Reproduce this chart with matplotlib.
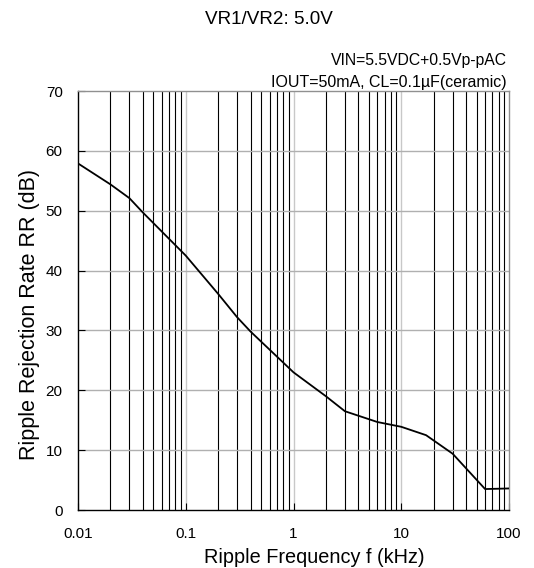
import matplotlib.pyplot as plt
import numpy as np

plt.rcParams['font.family'] = ['Liberation Sans', 'DejaVu Sans']

# data
freq_khz = [0.01, 0.02, 0.03, 0.04, 0.1, 0.2, 0.3, 0.4, 1.0, 2.0, 3.0, 6.0, 10.0, 17.0, 30.0, 60.0, 100.0]
rr_db = [57.9, 54.4, 52.1, 49.7, 42.5, 36.1, 32.2, 29.8, 23.0, 19.0, 16.5, 14.7, 13.9, 12.5, 9.4, 3.5, 3.6]

y_ticks = [0, 10, 20, 30, 40, 50, 60, 70]
x_ticks = [0.01, 0.1, 1, 10, 100]
x_tick_labels = ["0.01", "0.1", "1", "10", "100"]

fig = plt.figure(figsize=(5.34, 5.68), dpi=100)
ax = fig.add_axes([78 / 534, 1 - 510 / 568, 431 / 534, 419 / 568])

ax.set_xscale('log')
ax.set_xlim(0.01, 100)
ax.set_ylim(0, 70)

# minor verticals are black, decades light gray
for dec in [0.01, 0.1, 1, 10]:
    for m in range(2, 10):
        ax.axvline(dec * m, color='black', lw=0.8, zorder=1)
for d in [0.1, 1, 10]:
    ax.axvline(d, color='#c8c8c8', lw=1.0, zorder=1)
for y in y_ticks[1:-1]:
    ax.axhline(y, color='#b0b0b0', lw=1.0, zorder=1)

ax.plot(freq_khz, rr_db, color='black', lw=1.3, zorder=3)

ax.set_yticks(y_ticks)
ax.set_xticks(x_ticks)
ax.set_xticklabels(x_tick_labels)
ax.minorticks_off()
ax.tick_params(direction='in', length=5, labelsize=11, width=0.8)
ax.tick_params(axis='x', pad=12)
ax.tick_params(axis='y', pad=11)

ax.spines['left'].set_color('black')
ax.spines['bottom'].set_color('black')
ax.spines['top'].set_color('#909090')
ax.spines['right'].set_color('#909090')
for s in ax.spines.values():
    s.set_linewidth(1.0)

# axis titles placed by hand, they are not centred on the axes in the original
fig.text(314 / 534, 1 - 563 / 568, "Ripple Frequency f (kHz)", ha='center', va='baseline', fontsize=14.3)
fig.text(30 / 534, 1 - 314 / 568, "Ripple Rejection Rate RR (dB)", ha='center', va='center',
         rotation=90, fontsize=15.5)

fig.text(269 / 534, 1 - 20 / 568, "VR1/VR2: 5.0V", ha='center', va='center', fontsize=13.6)
fig.text(507 / 534, 1 - 61 / 568, "VIN=5.5VDC+0.5Vp-pAC", ha='right', va='center', fontsize=11.3)
fig.text(507 / 534, 1 - 82 / 568, "IOUT=50mA, CL=0.1µF(ceramic)", ha='right', va='center', fontsize=11.5)

fig.savefig("out.png", dpi=100)
